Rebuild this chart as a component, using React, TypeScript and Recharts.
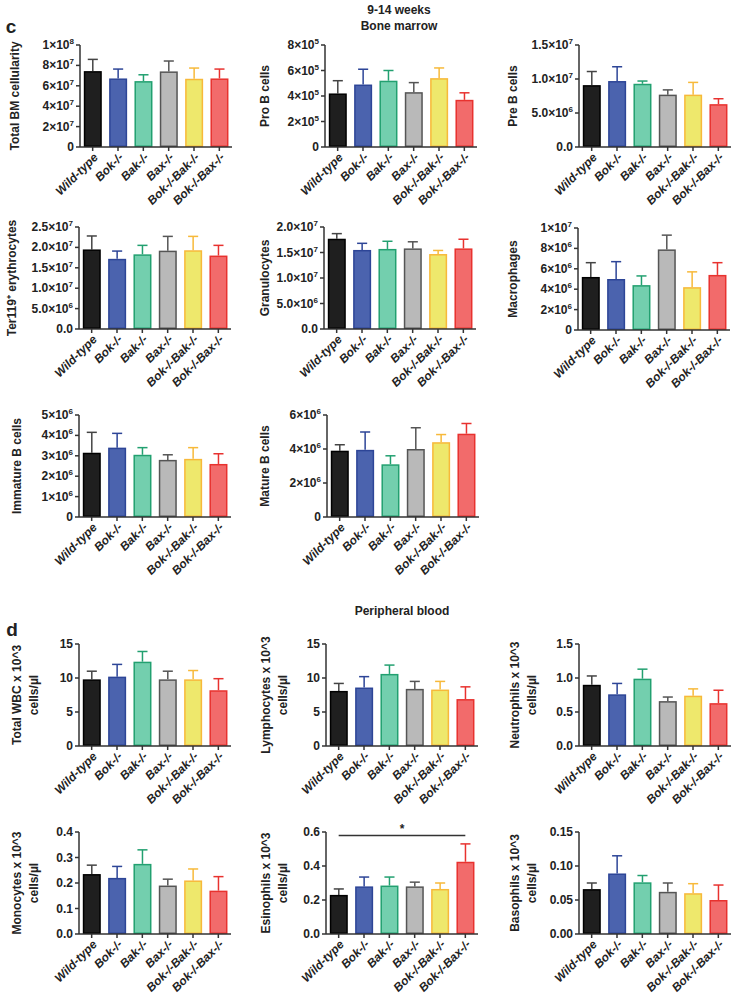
import { Bar, BarChart, ReferenceLine, XAxis, YAxis } from "recharts"

const groups = ["Wild-type", "Bok-/-", "Bak-/-", "Bax-/-", "Bok-/-Bak-/-", "Bok-/-Bax-/-"]
const fills = ["#1f1f1f", "#4b63ae", "#73cfae", "#b9b9b9", "#eee86c", "#f26b6b"]
const edges = ["#000000", "#2d4597", "#22a070", "#555555", "#f7b93a", "#e8322f"]
const whiskers = ["#444444", "#2d4597", "#22a070", "#555555", "#f7b93a", "#e8322f"]

// bone marrow
const totalBmMean = [7.44e7, 6.72e7, 6.46e7, 7.41e7, 6.69e7, 6.72e7]
const totalBmSem = [1.15e7, 0.92e7, 0.62e7, 1.02e7, 1.05e7, 0.92e7]
const proBMean = [4.2e5, 4.9e5, 5.2e5, 4.3e5, 5.4e5, 3.7e5]
const proBSem = [1.0e5, 1.2e5, 0.8e5, 0.75e5, 0.8e5, 0.55e5]
const preBMean = [9.1e6, 9.7e6, 9.3e6, 7.7e6, 7.7e6, 6.3e6]
const preBSem = [2.0e6, 2.1e6, 0.4e6, 0.7e6, 1.8e6, 0.8e6]
const ter119Mean = [1.95e7, 1.72e7, 1.83e7, 1.92e7, 1.93e7, 1.8e7]
const ter119Sem = [0.33e7, 0.19e7, 0.22e7, 0.35e7, 0.34e7, 0.25e7]
const granuloMean = [1.77e7, 1.55e7, 1.57e7, 1.58e7, 1.47e7, 1.58e7]
const granuloSem = [0.1e7, 0.13e7, 0.15e7, 0.13e7, 0.07e7, 0.18e7]
const macroMean = [5.2e6, 5.0e6, 4.4e6, 7.9e6, 4.2e6, 5.4e6]
const macroSem = [1.4e6, 1.7e6, 0.9e6, 1.4e6, 1.5e6, 1.2e6]
const immBMean = [3.15e6, 3.4e6, 3.05e6, 2.8e6, 2.85e6, 2.6e6]
const immBSem = [1.0e6, 0.7e6, 0.35e6, 0.25e6, 0.55e6, 0.5e6]
const matBMean = [3.9e6, 3.95e6, 3.1e6, 4.0e6, 4.4e6, 4.9e6]
const matBSem = [0.35e6, 1.05e6, 0.5e6, 1.25e6, 0.45e6, 0.6e6]

// peripheral blood (x 10^3 cells/µl)
const wbcMean = [9.8, 10.2, 12.4, 9.8, 9.8, 8.2]
const wbcSem = [1.2, 1.8, 1.5, 1.2, 1.3, 1.7]
const lymphMean = [8.1, 8.6, 10.6, 8.4, 8.3, 6.9]
const lymphSem = [1.1, 1.6, 1.3, 1.1, 1.2, 1.8]
const neutMean = [0.9, 0.76, 0.99, 0.66, 0.74, 0.63]
const neutSem = [0.13, 0.16, 0.14, 0.06, 0.1, 0.19]
const monoMean = [0.235, 0.22, 0.275, 0.19, 0.21, 0.17]
const monoSem = [0.035, 0.045, 0.055, 0.025, 0.045, 0.055]
const eosMean = [0.23, 0.28, 0.285, 0.28, 0.265, 0.425]
const eosSem = [0.035, 0.055, 0.05, 0.025, 0.035, 0.105]
const basoMean = [0.066, 0.089, 0.076, 0.062, 0.06, 0.05]
const basoSem = [0.009, 0.026, 0.01, 0.013, 0.014, 0.022]

const FONT = "'Liberation Sans', Arial, sans-serif"
const YW = 75
const MT = 10
const PH = 102
const PW = 152
const MR = 6
const XH = 62
const AX = "#333333"

const SUP: Record<string, string> = {}

function fmtTick(v: number, sci: boolean, decimals: number) {
  if (!sci || v === 0) return { base: v.toFixed(decimals), exp: "" }
  const exp = Math.floor(Math.log10(v) + 1e-9)
  const mant = v / Math.pow(10, exp)
  return { base: `${mant.toFixed(decimals)}×10`, exp: String(exp) }
}

const YTick = (props: any) => {
  const { x, y, payload, sci, decimals } = props
  const { base, exp } = fmtTick(payload.value, sci, decimals)
  return (
    <text x={x} y={y} dy={4} textAnchor="end" fontSize={12} fontWeight="bold" fill="#222" fontFamily={FONT}>
      <tspan>{base}</tspan>
      {exp && (
        <tspan dy={-5} fontSize={8}>
          {exp}
        </tspan>
      )}
    </text>
  )
}

const XTick = (props: any) => {
  const { x, y, payload } = props
  return (
    <g transform={`translate(${x + 3},${y + 2})`}>
      <text
        transform="rotate(-45)"
        textAnchor="end"
        dy="0.35em"
        fontSize={12}
        fontWeight="bold"
        fontStyle="italic"
        fill="#222"
        fontFamily={FONT}
      >
        {payload.value}
      </text>
    </g>
  )
}

const AxisTitle = (props: any) => {
  const { lines, lx, ly } = props
  return (
    <text
      x={lx}
      y={ly}
      transform={`rotate(-90, ${lx}, ${ly})`}
      textAnchor="middle"
      dominantBaseline="central"
      fontSize={12}
      fontWeight="bold"
      fill="#222"
      fontFamily={FONT}
    >
      {lines.map((t: string, i: number) => (
        <tspan key={i} x={lx} dy={i === 0 ? 0 : 17}>
          {t}
        </tspan>
      ))}
    </text>
  )
}

const BarShape = (props: any) => {
  const { x, y, width, height, payload } = props
  const unit = payload.mean ? height / payload.mean : 0
  const top = y - payload.sem * unit
  const cx = x + width / 2
  const cap = width * 0.28
  return (
    <g>
      <line x1={cx} x2={cx} y1={y} y2={top} stroke={payload.whisker} strokeWidth={1.5} />
      <line x1={cx - cap} x2={cx + cap} y1={top} y2={top} stroke={payload.whisker} strokeWidth={1.5} />
      <rect
        x={x + 0.75}
        y={y + 0.75}
        width={width - 1.5}
        height={Math.max(height - 1.5, 0)}
        fill={payload.fill}
        stroke={payload.edge}
        strokeWidth={1.5}
      />
    </g>
  )
}

type PanelProps = {
  left: number
  top: number
  mean: number[]
  sem: number[]
  max: number
  ticks: number[]
  sci: boolean
  decimals: number
  label: string[]
  labelDx: number
  sig?: number
}

function Panel({ left, top, mean, sem, max, ticks, sci, decimals, label, labelDx, sig }: PanelProps) {
  const rows = groups.map((name, i) => ({
    name,
    mean: mean[i],
    sem: sem[i],
    fill: fills[i],
    edge: edges[i],
    whisker: whiskers[i],
  }))
  return (
    <div style={{ position: "absolute", left: left - YW, top: top - MT }}>
      <BarChart
        width={YW + PW + MR}
        height={MT + PH + XH}
        data={rows}
        margin={{ top: MT, right: MR, bottom: 0, left: 0 }}
        barCategoryGap="15%"
        style={{ overflow: "visible" }}
      >
        <XAxis
          dataKey="name"
          interval={0}
          height={XH}
          tick={<XTick />}
          tickSize={4}
          axisLine={{ stroke: AX, strokeWidth: 1.5 }}
          tickLine={{ stroke: AX, strokeWidth: 1.5 }}
        />
        <YAxis
          width={YW}
          type="number"
          domain={[0, max]}
          ticks={ticks}
          interval={0}
          tickSize={4}
          tick={(p: any) => <YTick {...p} sci={sci} decimals={decimals} />}
          axisLine={{ stroke: AX, strokeWidth: 1.5 }}
          tickLine={{ stroke: AX, strokeWidth: 1.5 }}
          label={<AxisTitle lines={label} lx={YW + labelDx} ly={MT + PH / 2} />}
        />
        <Bar dataKey="mean" shape={<BarShape />} isAnimationActive={false} />
        {sig !== undefined && (
          <ReferenceLine
            segment={[
              { x: groups[0], y: sig },
              { x: groups[groups.length - 1], y: sig },
            ]}
            stroke={AX}
            strokeWidth={1.5}
            label={{ value: "*", position: "top", fill: "#222", fontSize: 12, fontWeight: "bold", offset: 2 }}
          />
        )}
      </BarChart>
    </div>
  )
}

const headStyle = (cx: number, cy: number, size = 12): React.CSSProperties => ({
  position: "absolute",
  left: cx - 100,
  top: cy - size * 0.6,
  width: 200,
  textAlign: "center",
  fontSize: size,
  lineHeight: `${size * 1.2}px`,
  fontWeight: "bold",
  fontFamily: FONT,
  color: "#222",
})

export default function App() {
  return (
    <div
      style={{
        position: "absolute",
        left: 0,
        top: 0,
        width: 735,
        height: 999,
        background: "#fff",
        fontFamily: FONT,
        overflow: "hidden",
      }}
    >
      <div style={headStyle(399, 10)}>9-14 weeks</div>
      <div style={headStyle(399, 26)}>Bone marrow</div>
      <div style={{ ...headStyle(11, 27, 19), left: -89 }}>c</div>
      <div style={headStyle(402, 611)}>Peripheral blood</div>
      <div style={{ ...headStyle(12, 630, 19), left: -88 }}>d</div>

      <Panel left={80} top={45} mean={totalBmMean} sem={totalBmSem} max={1e8}
        ticks={[0, 2e7, 4e7, 6e7, 8e7, 1e8]} sci decimals={0} label={["Total BM cellularity"]} labelDx={-65} />
      <Panel left={325} top={45} mean={proBMean} sem={proBSem} max={8e5}
        ticks={[0, 2e5, 4e5, 6e5, 8e5]} sci decimals={0} label={["Pro B cells"]} labelDx={-60} />
      <Panel left={579} top={45} mean={preBMean} sem={preBSem} max={1.5e7}
        ticks={[0, 5e6, 1e7, 1.5e7]} sci decimals={1} label={["Pre B cells"]} labelDx={-66} />

      <Panel left={79} top={227} mean={ter119Mean} sem={ter119Sem} max={2.5e7}
        ticks={[0, 5e6, 1e7, 1.5e7, 2e7, 2.5e7]} sci decimals={1} label={["Ter119⁺ erythrocytes"]} labelDx={-67} />
      <Panel left={324} top={227} mean={granuloMean} sem={granuloSem} max={2e7}
        ticks={[0, 5e6, 1e7, 1.5e7, 2e7]} sci decimals={1} label={["Granulocytes"]} labelDx={-59} />
      <Panel left={578} top={228} mean={macroMean} sem={macroSem} max={1e7}
        ticks={[0, 2e6, 4e6, 6e6, 8e6, 1e7]} sci decimals={0} label={["Macrophages"]} labelDx={-65} />

      <Panel left={79} top={415} mean={immBMean} sem={immBSem} max={5e6}
        ticks={[0, 1e6, 2e6, 3e6, 4e6, 5e6]} sci decimals={0} label={["Immature B cells"]} labelDx={-62} />
      <Panel left={327} top={415} mean={matBMean} sem={matBSem} max={6e6}
        ticks={[0, 2e6, 4e6, 6e6]} sci decimals={0} label={["Mature B cells"]} labelDx={-62} />

      <Panel left={79} top={644} mean={wbcMean} sem={wbcSem} max={15}
        ticks={[0, 5, 10, 15]} sci={false} decimals={0} label={["Total WBC x 10^3", "cells/µl"]} labelDx={-62} />
      <Panel left={326} top={644} mean={lymphMean} sem={lymphSem} max={15}
        ticks={[0, 5, 10, 15]} sci={false} decimals={0} label={["Lymphocytes x 10^3", "cells/µl"]} labelDx={-60} />
      <Panel left={579} top={644} mean={neutMean} sem={neutSem} max={1.5}
        ticks={[0, 0.5, 1, 1.5]} sci={false} decimals={1} label={["Neutrophils x 10^3", "cells/µl"]} labelDx={-64} />

      <Panel left={79} top={832} mean={monoMean} sem={monoSem} max={0.4}
        ticks={[0, 0.1, 0.2, 0.3, 0.4]} sci={false} decimals={1} label={["Monocytes x 10^3", "cells/µl"]} labelDx={-62} />
      <Panel left={326} top={832} mean={eosMean} sem={eosSem} max={0.6}
        ticks={[0, 0.2, 0.4, 0.6]} sci={false} decimals={1} label={["Esinophils x 10^3", "cells/µl"]} labelDx={-60} sig={0.58} />
      <Panel left={579} top={832} mean={basoMean} sem={basoSem} max={0.15}
        ticks={[0, 0.05, 0.1, 0.15]} sci={false} decimals={2} label={["Basophils x 10^3", "cells/µl"]} labelDx={-64} />
    </div>
  )
}
